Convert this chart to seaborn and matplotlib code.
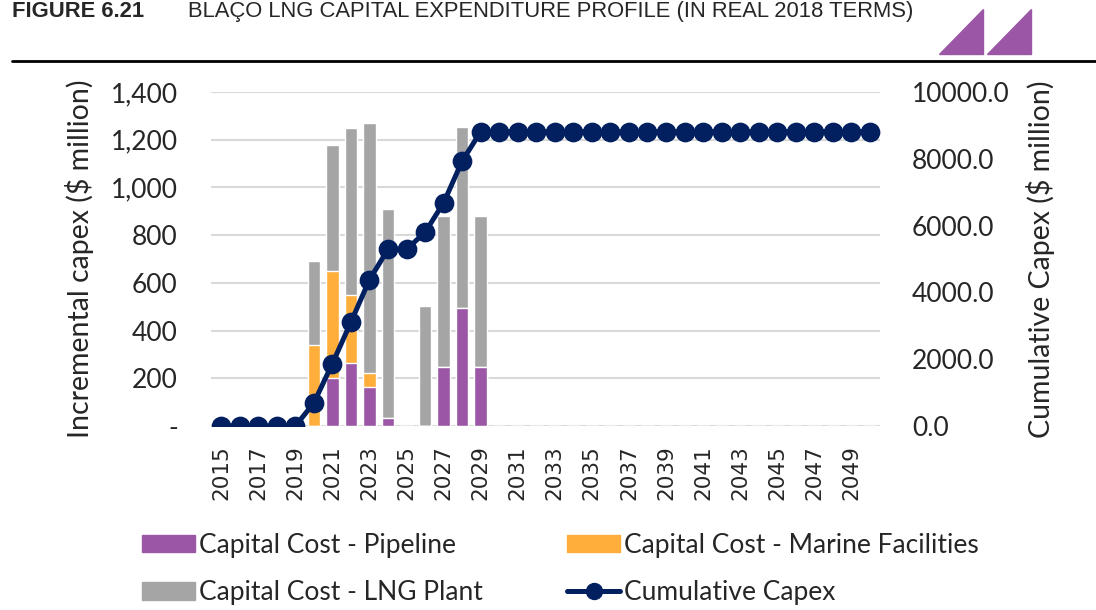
import matplotlib
matplotlib.use("Agg")
import matplotlib.pyplot as plt
import matplotlib.ticker as mticker
from matplotlib.patches import Polygon
from matplotlib.lines import Line2D
from matplotlib.patches import Patch
import seaborn as sns
import numpy as np
import pandas as pd

years = list(range(2015, 2051))
pipeline = [0, 0, 0, 0, 0, 0, 200, 265, 165, 32, 0, 0, 248, 496, 248] + [0] * 21
marine = [0, 0, 0, 0, 0, 340, 450, 284, 56, 0, 0, 0, 0, 0, 0] + [0] * 21
lng_plant = [0, 0, 0, 0, 0, 350, 528, 698, 1050, 876, 0, 504, 632, 758, 632] + [0] * 21
cumulative = [0, 0, 0, 0, 0, 690, 1870, 3110, 4380, 5290, 5290, 5800, 6680,
              7930, 8810] + [8810] * 21

purple = "#9B57A6"
orange = "#FFAD3B"
grey = "#A5A5A5"
navy = "#022060"

df = pd.DataFrame({"year": [str(y) for y in years], "pipeline": pipeline,
                   "marine": marine, "lng": lng_plant, "cum": cumulative})
df["top_marine"] = df["pipeline"] + df["marine"]
df["top_lng"] = df["top_marine"] + df["lng"]

sns.set_style("white")
plt.rcParams["font.family"] = ["Lato", "DejaVu Sans"]

fig = plt.figure(figsize=(10.96, 6.1), dpi=100)
ax = fig.add_axes([0.1925, 0.3016, 0.6105, 0.5476])

# stacked bars drawn as overlapping cumulative tops
sns.barplot(data=df, x="year", y="top_lng", color=grey, width=0.68, ax=ax,
            saturation=1)
sns.barplot(data=df, x="year", y="top_marine", color=orange, width=0.68, ax=ax,
            saturation=1)
sns.barplot(data=df, x="year", y="pipeline", color=purple, width=0.68, ax=ax,
            saturation=1)

ax.set_ylim(0, 1400)
ax.set_yticks(range(0, 1401, 200))
ax.yaxis.set_major_formatter(mticker.FuncFormatter(
    lambda v, p: "-" if v == 0 else f"{int(v):,}"))
ax.grid(axis="y", color="#D9D9D9", lw=1.5)
ax.set_axisbelow(True)
for s in ax.spines.values():
    s.set_visible(False)
ax.tick_params(axis="y", labelsize=19, length=0, pad=24)
ax.set_xlabel("")
ax.set_ylabel("Incremental capex ($ million)", fontsize=20.5, labelpad=12)

ax2 = ax.twinx()
sns.pointplot(data=df, x="year", y="cum", color=navy, ax=ax2,
              markers="o", linewidth=3.6, markersize=11.5)
ax2.set_ylim(0, 10000)
ax2.set_yticks(range(0, 10001, 2000))
ax2.yaxis.set_major_formatter(mticker.FuncFormatter(lambda v, p: f"{v:.1f}"))
for s in ax2.spines.values():
    s.set_visible(False)
ax2.tick_params(axis="y", labelsize=19, length=0, pad=23)
ax2.set_ylabel("Cumulative Capex ($ million)", fontsize=20.5, labelpad=12)
ax2.set_xlabel("")

ax.set_xlim(-0.55, len(years) - 0.45)
ax.set_xticks(range(0, len(years), 2))
ax.set_xticklabels([str(y) for y in years[::2]], rotation=90,
                   fontsize=15.5, family="DejaVu Sans")
ax.tick_params(axis="x", length=0, pad=14)
ax2.grid(False)

# legend (column-major order so rows read as in the reference)
handles = [Patch(color=purple), Patch(color=grey), Patch(color=orange),
           Line2D([], [], color=navy, lw=3.6, marker="o", markersize=11.5)]
labels = ["Capital Cost - Pipeline", "Capital Cost - LNG Plant",
          "Capital Cost - Marine Facilities", "Cumulative Capex"]
fig.legend(handles, labels, loc="center left", bbox_to_anchor=(0.108, 0.067),
           ncol=2, frameon=False, fontsize=19, handlelength=2.0,
           handleheight=0.65, handletextpad=0.15, columnspacing=3.2,
           labelspacing=0.85)

# header
fig.text(12 / 1096, 0.999, "FIGURE 6.21", fontsize=15.8, fontweight="bold",
         va="top", family="Liberation Sans")
fig.text(188 / 1096, 0.999,
         "BLAÇO LNG CAPITAL EXPENDITURE PROFILE (IN REAL 2018 TERMS)",
         fontsize=15.8, va="top", family="Liberation Sans")
fig.add_artist(Line2D([12 / 1096, 1.0], [1 - 61 / 610] * 2, color="black",
                      lw=2, transform=fig.transFigure))
for x0 in (939, 987):
    tri = Polygon([[x0 / 1096, 1 - 54 / 610], [(x0 + 44) / 1096, 1 - 54 / 610],
                   [(x0 + 44) / 1096, 1 - 9 / 610]], closed=True,
                  color=purple, transform=fig.transFigure)
    fig.add_artist(tri)

fig.savefig("out.png", dpi=100)
